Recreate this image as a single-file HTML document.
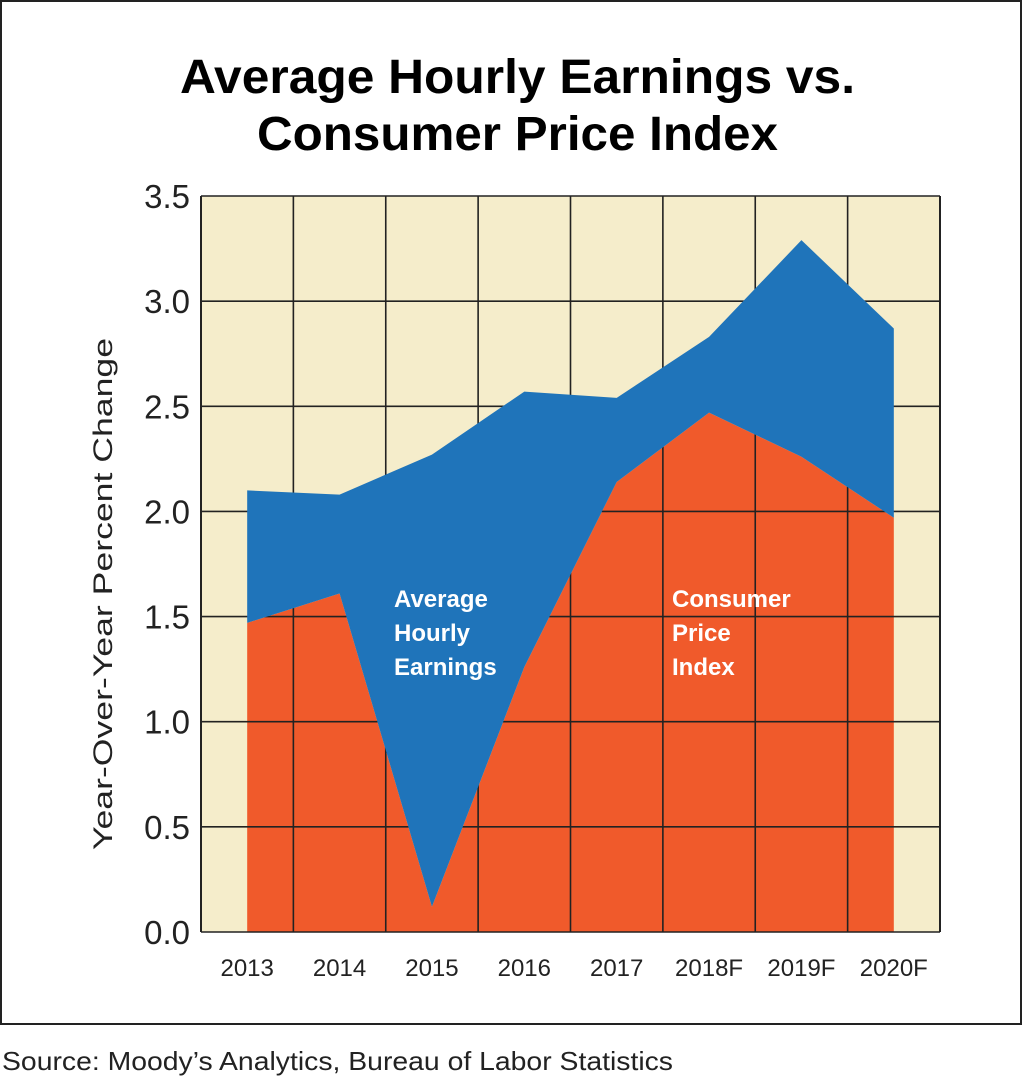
<!DOCTYPE html>
<html><head><meta charset="utf-8"><style>
body{margin:0;background:#fff;width:1023px;height:1078px;overflow:hidden;font-family:"Liberation Sans",sans-serif}
</style></head><body>
<svg width="1023" height="1078" xmlns="http://www.w3.org/2000/svg">
<rect x="1" y="1" width="1020" height="1023" fill="#fff" stroke="#222" stroke-width="2"/>
<text x="180" y="93" textLength="675" lengthAdjust="spacingAndGlyphs" font-size="48" font-weight="bold" fill="#000">Average Hourly Earnings vs.</text>
<text x="257" y="150" textLength="521" lengthAdjust="spacingAndGlyphs" font-size="48" font-weight="bold" fill="#000">Consumer Price Index</text>
<rect x="201" y="196" width="739" height="736" fill="#f5edcb"/>
<g id="orange"></g><g id="grid"></g><g id="blue"></g><g id="labels"></g>
<text transform="translate(112,850) rotate(-90)" textLength="512" lengthAdjust="spacingAndGlyphs" font-size="27" fill="#222">Year-Over-Year Percent Change</text>
<text x="394" y="607" font-size="24" font-weight="bold" fill="#fff"><tspan x="394">Average</tspan><tspan x="394" dy="34">Hourly</tspan><tspan x="394" dy="34">Earnings</tspan></text>
<text x="672" y="607" font-size="24" font-weight="bold" fill="#fff"><tspan x="672">Consumer</tspan><tspan x="672" dy="34">Price</tspan><tspan x="672" dy="34">Index</tspan></text>
<text x="2" y="1070" textLength="671" lengthAdjust="spacingAndGlyphs" font-size="26" fill="#222">Source: Moody’s Analytics, Bureau of Labor Statistics</text>
</svg>
<script>
const categories=["2013","2014","2015","2016","2017","2018F","2019F","2020F"];
const ahe=[2.10,2.08,2.27,2.57,2.54,2.83,3.29,2.87];
const cpi=[1.47,1.61,0.12,1.26,2.14,2.47,2.26,1.97];
const yTicks=[0,0.5,1,1.5,2,2.5,3,3.5];
const yTickLabels=["0.0","0.5","1.0","1.5","2.0","2.5","3.0","3.5"];
const L=201,R=940,T=196,B=932,yMax=3.5;
const step=(R-L)/categories.length;
const x=i=>L+step*(i+0.5);
const y=v=>B-(v/yMax)*(B-T);
const NS="http://www.w3.org/2000/svg";
function mk(tag,parent){const e=document.createElementNS(NS,tag);document.getElementById(parent).appendChild(e);return e;}
let d="M"+x(0)+","+B;
cpi.forEach((v,i)=>d+=" L"+x(i)+","+y(v));
d+=" L"+x(cpi.length-1)+","+B+" Z";
const o=mk("path","orange");o.setAttribute("d",d);o.setAttribute("fill","#f05a2b");


yTicks.forEach((v,i)=>{const l=mk("line","grid");l.setAttribute("x1",L);l.setAttribute("x2",R);l.setAttribute("y1",y(v));l.setAttribute("y2",y(v));l.setAttribute("stroke","#222");l.setAttribute("stroke-width","1.6");


const t=mk("text","labels");t.setAttribute("x",190);t.setAttribute("y",y(v)+12);t.setAttribute("text-anchor","end");t.setAttribute("font-size","33");t.setAttribute("fill","#222");t.textContent=yTickLabels[i];

});
for(let i=0;i<=categories.length;i++){const l=mk("line","grid");const xx=L+step*i;l.setAttribute("x1",xx);l.setAttribute("x2",xx);l.setAttribute("y1",T);l.setAttribute("y2",B);l.setAttribute("stroke","#222");l.setAttribute("stroke-width",(i==0||i==categories.length)?"2":"1.6");

}
categories.forEach((c,i)=>{const t=mk("text","labels");t.setAttribute("x",x(i));t.setAttribute("y",976);t.setAttribute("text-anchor","middle");t.setAttribute("font-size","24");t.setAttribute("fill","#222");t.textContent=c;

});
let b="M"+x(0)+","+y(ahe[0]);
ahe.forEach((v,i)=>b+=" L"+x(i)+","+y(v));
for(let i=cpi.length-1;i>=0;i--)b+=" L"+x(i)+","+y(cpi[i]);
b+=" Z";
const bl=mk("path","blue");bl.setAttribute("d",b);bl.setAttribute("fill","#1f74ba");


</script>
</body></html>
